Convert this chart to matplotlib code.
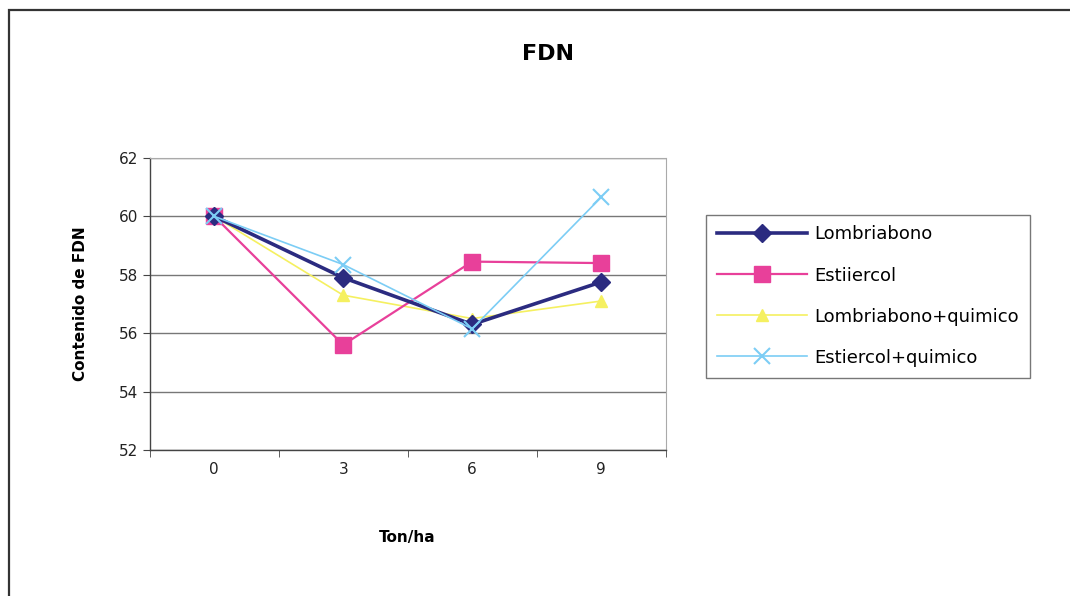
import numpy as np
import matplotlib.pyplot as plt
from matplotlib.patches import Rectangle

dosis = ['0', '3', '6', '9']
lombriabono = [60.0, 57.9, 56.3, 57.75]
estiercol = [60.0, 55.6, 58.45, 58.4]
lombri_quimico = [60.0, 57.3, 56.5, 57.1]
estiercol_quimico = [60.0, 58.35, 56.15, 60.65]

fig = plt.figure(figsize=(10.7, 5.96), dpi=100)
ax = fig.add_axes([0.140, 0.245, 0.482, 0.490])

x = np.arange(len(dosis))
ax.plot(x, lombriabono, color='#2b2b80', lw=2.6, marker='D', ms=9, label='Lombriabono', zorder=5)
ax.plot(x, estiercol, color='#e8409a', lw=1.6, marker='s', ms=12, label='Estiiercol', zorder=4)
ax.plot(x, lombri_quimico, color='#f5f060', lw=1.2, marker='^', ms=9, label='Lombriabono+quimico', zorder=3)
ax.plot(x, estiercol_quimico, color='#7ccdf5', lw=1.2, marker='x', ms=11, mew=1.5,
        label='Estiercol+quimico', zorder=6)

ax.set_xlim(-0.5, 3.5)
ax.set_ylim(52, 62)
ax.set_yticks(np.arange(52, 63, 2))
ax.set_xticks(x)
ax.set_xticklabels(dosis)
ax.set_xticks(np.arange(-0.5, 4, 1), minor=True)
ax.tick_params(axis='x', which='major', length=0, pad=9, labelsize=11, labelcolor='#222222')
ax.tick_params(axis='x', which='minor', length=5, direction='out', color='#444444')
ax.tick_params(axis='y', length=5, direction='out', labelsize=11, color='#444444',
               labelcolor='#222222')
ax.yaxis.grid(True, color='#777777', lw=1.0)
ax.set_axisbelow(True)
for side in ['top', 'right']:
    ax.spines[side].set_color('#aaaaaa')
    ax.spines[side].set_linestyle((0, (2, 1)))
    ax.spines[side].set_linewidth(0.8)
for side in ['left', 'bottom']:
    ax.spines[side].set_color('#444444')
    ax.spines[side].set_linewidth(1.0)

ax.set_xlabel('Ton/ha', fontsize=11, fontweight='bold', labelpad=38)
ax.set_ylabel('Contenido de FDN', fontsize=11, fontweight='bold', labelpad=22)
fig.text(0.512, 0.91, 'FDN', ha='center', va='center', fontsize=16, fontweight='bold')

leg = fig.legend(loc='upper left', bbox_to_anchor=(0.660, 0.640), frameon=True,
                 fancybox=False, edgecolor='#555555', fontsize=13, handlelength=5.0,
                 handletextpad=0.4, labelspacing=1.28, borderpad=0.6, borderaxespad=0)
leg.get_frame().set_linewidth(1.0)

# outer chart frame
fig.patches.append(Rectangle((0.008, -0.05), 1.1, 1.033, transform=fig.transFigure,
                             fill=False, edgecolor='#333333', lw=1.6))

fig.savefig('out.png', dpi=100)
